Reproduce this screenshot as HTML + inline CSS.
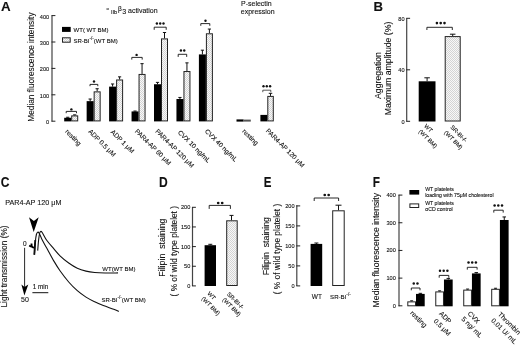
<!DOCTYPE html>
<html><head><meta charset="utf-8"><style>
html,body{margin:0;padding:0;background:#fff;}
svg{display:block;font-family:"Liberation Sans", sans-serif;filter:blur(0.3px);}
text{stroke:#111;stroke-width:0.1px;}
</style></head><body>
<svg width="520" height="346" viewBox="0 0 520 346">
<defs><pattern id="hatch" width="2" height="2" patternUnits="userSpaceOnUse"><rect width="2" height="2" fill="#f8f8f8"/><rect width="1" height="1" fill="#d4d4d4"/><rect x="1" y="1" width="1" height="1" fill="#d4d4d4"/></pattern></defs>
<rect width="520" height="346" fill="#fff"/>
<text x="0.9" y="10.7" font-size="13.4" text-anchor="start" font-weight="bold" fill="#111">A</text>
<line x1="52.00" y1="15.50" x2="52.00" y2="121.40" stroke="#444" stroke-width="1.2"/>
<line x1="51.50" y1="121.20" x2="55.40" y2="121.20" stroke="#222" stroke-width="1.0"/>
<text x="49.2" y="124.1" font-size="5.6" text-anchor="end" font-weight="normal" fill="#111">0</text>
<line x1="51.50" y1="94.80" x2="55.40" y2="94.80" stroke="#222" stroke-width="1.0"/>
<text x="49.2" y="97.7" font-size="5.6" text-anchor="end" font-weight="normal" fill="#111">100</text>
<line x1="51.50" y1="68.40" x2="55.40" y2="68.40" stroke="#222" stroke-width="1.0"/>
<text x="49.2" y="71.3" font-size="5.6" text-anchor="end" font-weight="normal" fill="#111">200</text>
<line x1="51.50" y1="42.00" x2="55.40" y2="42.00" stroke="#222" stroke-width="1.0"/>
<text x="49.2" y="44.9" font-size="5.6" text-anchor="end" font-weight="normal" fill="#111">300</text>
<line x1="51.50" y1="15.60" x2="55.40" y2="15.60" stroke="#222" stroke-width="1.0"/>
<text x="49.2" y="18.5" font-size="5.6" text-anchor="end" font-weight="normal" fill="#111">400</text>
<text x="34" y="67.1" font-size="8.3" text-anchor="middle" font-weight="normal" fill="#111" transform="rotate(-90 34 67.1)">Median fluorescence intensity</text>
<text x="106.6" y="9.9" font-size="3.9" text-anchor="start" font-weight="normal" fill="#111">α</text>
<text x="111.0" y="13.5" font-size="5.6" text-anchor="start" font-weight="normal" fill="#111">IIb</text>
<text x="117.9" y="10.6" font-size="6.6" text-anchor="start" font-weight="normal" fill="#111">β</text>
<text x="122.3" y="13.5" font-size="7" text-anchor="start" font-weight="normal" fill="#111">3</text>
<text x="128.0" y="13.4" font-size="7" text-anchor="start" font-weight="normal" fill="#111">activation</text>
<rect x="62.00" y="26.90" width="8.70" height="5.00" fill="#000"/>
<rect x="62.50" y="37.80" width="7.70" height="4.40" fill="url(#hatch)" stroke="#222" stroke-width="1"/>
<text x="73.6" y="31.6" font-size="6" text-anchor="start" font-weight="normal" fill="#111">WT( WT BM)</text>
<text x="73.4" y="42.6" font-size="6" fill="#111">SR-BI<tspan font-size="4.6" dy="-2.6">-/-</tspan><tspan dy="2.6">(WT BM)</tspan></text>
<line x1="67.70" y1="117.77" x2="67.70" y2="117.24" stroke="#111" stroke-width="1.0"/>
<line x1="66.10" y1="117.24" x2="69.30" y2="117.24" stroke="#111" stroke-width="1.0"/>
<line x1="74.70" y1="115.39" x2="74.70" y2="114.86" stroke="#111" stroke-width="1.0"/>
<line x1="73.10" y1="114.86" x2="76.30" y2="114.86" stroke="#111" stroke-width="1.0"/>
<rect x="64.20" y="117.77" width="7.00" height="3.63" fill="#000"/>
<rect x="71.70" y="115.89" width="6.00" height="5.01" fill="url(#hatch)" stroke="#222" stroke-width="1"/>
<polyline points="66.2,113.2 66.2,111.4 76.5,111.4 76.5,113.2" fill="none" stroke="#111" stroke-width="0.9"/>
<circle cx="71.40" cy="109.4" r="1.2" fill="#111"/>
<line x1="90.15" y1="101.14" x2="90.15" y2="99.02" stroke="#111" stroke-width="1.0"/>
<line x1="88.55" y1="99.02" x2="91.75" y2="99.02" stroke="#111" stroke-width="1.0"/>
<line x1="97.15" y1="91.37" x2="97.15" y2="88.73" stroke="#111" stroke-width="1.0"/>
<line x1="95.55" y1="88.73" x2="98.75" y2="88.73" stroke="#111" stroke-width="1.0"/>
<rect x="86.65" y="101.14" width="7.00" height="20.26" fill="#000"/>
<rect x="94.15" y="91.87" width="6.00" height="29.03" fill="url(#hatch)" stroke="#222" stroke-width="1"/>
<polyline points="90,86.2 90,84.4 97.8,84.4 97.8,86.2" fill="none" stroke="#111" stroke-width="0.9"/>
<circle cx="94.00" cy="81.5" r="1.2" fill="#111"/>
<line x1="112.60" y1="86.62" x2="112.60" y2="83.98" stroke="#111" stroke-width="1.0"/>
<line x1="111.00" y1="83.98" x2="114.20" y2="83.98" stroke="#111" stroke-width="1.0"/>
<line x1="119.60" y1="79.49" x2="119.60" y2="76.85" stroke="#111" stroke-width="1.0"/>
<line x1="118.00" y1="76.85" x2="121.20" y2="76.85" stroke="#111" stroke-width="1.0"/>
<rect x="109.10" y="86.62" width="7.00" height="34.78" fill="#000"/>
<rect x="116.60" y="79.99" width="6.00" height="40.91" fill="url(#hatch)" stroke="#222" stroke-width="1"/>
<line x1="135.05" y1="111.43" x2="135.05" y2="111.04" stroke="#111" stroke-width="1.0"/>
<line x1="133.45" y1="111.04" x2="136.65" y2="111.04" stroke="#111" stroke-width="1.0"/>
<line x1="142.05" y1="73.94" x2="142.05" y2="63.65" stroke="#111" stroke-width="1.0"/>
<line x1="140.45" y1="63.65" x2="143.65" y2="63.65" stroke="#111" stroke-width="1.0"/>
<rect x="131.55" y="111.43" width="7.00" height="9.97" fill="#000"/>
<rect x="139.05" y="74.44" width="6.00" height="46.46" fill="url(#hatch)" stroke="#222" stroke-width="1"/>
<polyline points="131.8,59.6 131.8,57.4 142.2,57.4 142.2,59.6" fill="none" stroke="#111" stroke-width="0.9"/>
<circle cx="136.60" cy="54.9" r="1.2" fill="#111"/>
<line x1="157.50" y1="84.24" x2="157.50" y2="82.39" stroke="#111" stroke-width="1.0"/>
<line x1="155.90" y1="82.39" x2="159.10" y2="82.39" stroke="#111" stroke-width="1.0"/>
<line x1="164.50" y1="38.41" x2="164.50" y2="32.50" stroke="#111" stroke-width="1.0"/>
<line x1="162.90" y1="32.50" x2="166.10" y2="32.50" stroke="#111" stroke-width="1.0"/>
<rect x="154.00" y="84.24" width="7.00" height="37.16" fill="#000"/>
<rect x="161.50" y="38.91" width="6.00" height="81.99" fill="url(#hatch)" stroke="#222" stroke-width="1"/>
<polyline points="154.2,29.8 154.2,27.2 166.2,27.2 166.2,29.8" fill="none" stroke="#111" stroke-width="0.9"/>
<circle cx="156.90" cy="23.5" r="1.2" fill="#111"/>
<circle cx="160.20" cy="23.5" r="1.2" fill="#111"/>
<circle cx="163.50" cy="23.5" r="1.2" fill="#111"/>
<line x1="179.95" y1="99.02" x2="179.95" y2="97.44" stroke="#111" stroke-width="1.0"/>
<line x1="178.35" y1="97.44" x2="181.55" y2="97.44" stroke="#111" stroke-width="1.0"/>
<line x1="186.95" y1="71.04" x2="186.95" y2="62.86" stroke="#111" stroke-width="1.0"/>
<line x1="185.35" y1="62.86" x2="188.55" y2="62.86" stroke="#111" stroke-width="1.0"/>
<rect x="176.45" y="99.02" width="7.00" height="22.38" fill="#000"/>
<rect x="183.95" y="71.54" width="6.00" height="49.36" fill="url(#hatch)" stroke="#222" stroke-width="1"/>
<polyline points="178.2,56.9 178.2,54.3 186.7,54.3 186.7,56.9" fill="none" stroke="#111" stroke-width="0.9"/>
<circle cx="180.95" cy="50.5" r="1.2" fill="#111"/>
<circle cx="184.25" cy="50.5" r="1.2" fill="#111"/>
<line x1="202.40" y1="54.41" x2="202.40" y2="50.18" stroke="#111" stroke-width="1.0"/>
<line x1="200.80" y1="50.18" x2="204.00" y2="50.18" stroke="#111" stroke-width="1.0"/>
<line x1="209.40" y1="33.29" x2="209.40" y2="29.06" stroke="#111" stroke-width="1.0"/>
<line x1="207.80" y1="29.06" x2="211.00" y2="29.06" stroke="#111" stroke-width="1.0"/>
<rect x="198.90" y="54.41" width="7.00" height="66.99" fill="#000"/>
<rect x="206.40" y="33.79" width="6.00" height="87.11" fill="url(#hatch)" stroke="#222" stroke-width="1"/>
<polyline points="200.8,25.8 200.8,23.6 209.8,23.6 209.8,25.8" fill="none" stroke="#111" stroke-width="0.9"/>
<circle cx="205.50" cy="20.7" r="1.2" fill="#111"/>
<text x="241" y="5.8" font-size="7" text-anchor="start" font-weight="normal" fill="#111">P-selectin</text>
<text x="240.8" y="13.8" font-size="7" text-anchor="start" font-weight="normal" fill="#111">expression</text>
<rect x="236.50" y="119.40" width="7.10" height="2.20" fill="#000"/>
<rect x="243.60" y="119.60" width="7.20" height="2.00" fill="#555"/>
<rect x="260.40" y="114.90" width="6.90" height="6.50" fill="#000"/>
<line x1="270.50" y1="95.90" x2="270.50" y2="93.30" stroke="#111" stroke-width="1.0"/>
<line x1="268.75" y1="93.30" x2="272.25" y2="93.30" stroke="#111" stroke-width="1.0"/>
<rect x="267.80" y="96.40" width="5.50" height="24.50" fill="url(#hatch)" stroke="#222" stroke-width="1"/>
<polyline points="262.8,92.2 262.8,90.2 270.8,90.2 270.8,92.2" fill="none" stroke="#111" stroke-width="0.7"/>
<circle cx="263.50" cy="86.3" r="1.2" fill="#111"/>
<circle cx="266.80" cy="86.3" r="1.2" fill="#111"/>
<circle cx="270.10" cy="86.3" r="1.2" fill="#111"/>
<text x="64.7" y="132.0" font-size="6.6" text-anchor="start" font-weight="normal" fill="#111" transform="rotate(45 64.7 132.0)">resting</text>
<text x="87.9" y="132.0" font-size="6.6" text-anchor="start" font-weight="normal" fill="#111" transform="rotate(45 87.9 132.0)">ADP 0.5 μM</text>
<text x="110.3" y="132.5" font-size="6.6" text-anchor="start" font-weight="normal" fill="#111" transform="rotate(45 110.3 132.5)">ADP 1 μM</text>
<text x="134.6" y="131.7" font-size="6.6" text-anchor="start" font-weight="normal" fill="#111" transform="rotate(45 134.6 131.7)">PAR4-AP 60 μM</text>
<text x="154.9" y="131.7" font-size="6.6" text-anchor="start" font-weight="normal" fill="#111" transform="rotate(45 154.9 131.7)">PAR4-AP 120 μM</text>
<text x="177.5" y="132.9" font-size="6.6" text-anchor="start" font-weight="normal" fill="#111" transform="rotate(45 177.5 132.9)">CVX 10 ng/mL</text>
<text x="204.4" y="131.7" font-size="6.6" text-anchor="start" font-weight="normal" fill="#111" transform="rotate(45 204.4 131.7)">CVX 40 ng/mL</text>
<text x="241.8" y="131.7" font-size="6.6" text-anchor="start" font-weight="normal" fill="#111" transform="rotate(45 241.8 131.7)">resting</text>
<text x="265.5" y="131.3" font-size="6.6" text-anchor="start" font-weight="normal" fill="#111" transform="rotate(45 265.5 131.3)">PAR4-AP 120 μM</text>
<text x="373.4" y="10.5" font-size="13.2" text-anchor="start" font-weight="bold" fill="#111">B</text>
<line x1="406.70" y1="18.30" x2="406.70" y2="121.50" stroke="#444" stroke-width="1.2"/>
<line x1="406.20" y1="121.30" x2="410.10" y2="121.30" stroke="#222" stroke-width="1.0"/>
<text x="404.6" y="123.7" font-size="5.6" text-anchor="end" font-weight="normal" fill="#111">0</text>
<line x1="406.20" y1="69.80" x2="410.10" y2="69.80" stroke="#222" stroke-width="1.0"/>
<text x="404.6" y="72.2" font-size="5.6" text-anchor="end" font-weight="normal" fill="#111">40</text>
<line x1="406.20" y1="18.30" x2="410.10" y2="18.30" stroke="#222" stroke-width="1.0"/>
<text x="404.6" y="20.7" font-size="5.6" text-anchor="end" font-weight="normal" fill="#111">80</text>
<text x="380.6" y="75.5" font-size="8.7" text-anchor="middle" font-weight="normal" fill="#111" transform="rotate(-90 380.6 75.5)">Aggregation</text>
<text x="390.8" y="68.5" font-size="8.7" text-anchor="middle" font-weight="normal" fill="#111" transform="rotate(-90 390.8 68.5)">Maximum amplitude (%)</text>
<line x1="427.10" y1="81.30" x2="427.10" y2="77.80" stroke="#111" stroke-width="1.0"/>
<line x1="424.35" y1="77.80" x2="429.85" y2="77.80" stroke="#111" stroke-width="1.0"/>
<rect x="418.70" y="81.30" width="16.80" height="40.20" fill="#000"/>
<line x1="452.70" y1="36.10" x2="452.70" y2="34.20" stroke="#111" stroke-width="1.0"/>
<line x1="449.95" y1="34.20" x2="455.45" y2="34.20" stroke="#111" stroke-width="1.0"/>
<rect x="445.20" y="36.60" width="15.00" height="84.40" fill="url(#hatch)" stroke="#222" stroke-width="1"/>
<polyline points="426.9,30.0 426.9,27.3 452.3,27.3 452.3,30.0" fill="none" stroke="#111" stroke-width="0.9"/>
<circle cx="436.90" cy="23.1" r="1.3" fill="#111"/>
<circle cx="440.70" cy="23.1" r="1.3" fill="#111"/>
<circle cx="444.50" cy="23.1" r="1.3" fill="#111"/>
<text x="423.8" y="126.4" font-size="5.85" text-anchor="start" font-weight="normal" fill="#111" transform="rotate(45 423.8 126.4)">WT</text>
<text x="418.3" y="131.9" font-size="5.85" text-anchor="start" font-weight="normal" fill="#111" transform="rotate(45 418.3 131.9)">(WT BM)</text>
<text x="449.9" y="127.6" font-size="5.85" text-anchor="start" font-weight="normal" fill="#111" transform="rotate(45 449.9 127.6)">SR-BI-/-</text>
<text x="443.8" y="133.1" font-size="5.85" text-anchor="start" font-weight="normal" fill="#111" transform="rotate(45 443.8 133.1)">(WT BM)</text>
<text x="0" y="0" font-size="13.4" font-weight="bold" fill="#111" transform="translate(0.8 187.3) scale(0.9 1.1)">C</text>
<text x="5.2" y="204.8" font-size="7.2" text-anchor="start" font-weight="normal" fill="#111">PAR4-AP 120 μM</text>
<path d="M29,217.2 L33.9,221 L38.7,217.2 L33.7,232 Z" fill="#000"/>
<text x="24.7" y="246" font-size="6.5" text-anchor="middle" font-weight="normal" fill="#111">0</text>
<line x1="24.60" y1="247.80" x2="24.60" y2="287.00" stroke="#111" stroke-width="0.9"/>
<path d="M21.4,284.6 L24.5,287 L28.3,284.6 L24.4,295.6 Z" fill="#000"/>
<text x="25" y="302.0" font-size="7" text-anchor="middle" font-weight="normal" fill="#111">50</text>
<text x="32.7" y="289.2" font-size="6.4" text-anchor="start" font-weight="normal" fill="#111">1 min</text>
<line x1="32.40" y1="292.70" x2="48.30" y2="292.70" stroke="#111" stroke-width="1.0"/>
<text x="7" y="266.5" font-size="8.3" text-anchor="middle" font-weight="normal" fill="#111" transform="rotate(-90 7 266.5)">Light transmission (%)</text>
<path d="M29.2,245.6 L30.5,246.4 L31.4,246.3 L31.5,243.6 L31.8,246.6 L33,247.3 L34.6,247.7" fill="none" stroke="#000" stroke-width="1.8"/>
<path d="M34.3,254.8 L34.8,247 L35.3,240" fill="none" stroke="#000" stroke-width="1.8"/>
<path d="M34.4,254.6 C34.55,252.50 34.97,245.35 35.3,242 C35.63,238.65 36.00,236.13 36.4,234.5 C36.80,232.87 37.23,232.42 37.7,232.2 C38.17,231.98 38.48,231.98 39.2,233.2 C39.92,234.42 40.75,237.02 42,239.5 C43.25,241.98 44.72,244.50 46.7,248.1 C48.68,251.70 51.68,257.32 53.9,261.1 C56.12,264.88 57.53,267.32 60,270.8 C62.47,274.28 65.82,278.68 68.7,282 C71.58,285.32 74.42,288.18 77.3,290.7 C80.18,293.22 83.10,295.25 86,297.1 C88.90,298.95 91.82,300.38 94.7,301.8 C97.58,303.22 100.13,304.37 103.3,305.6 C106.47,306.83 111.12,308.22 113.7,309.2 C116.28,310.18 117.95,311.12 118.8,311.5" fill="none" stroke="#111" stroke-width="1.1"/>
<path d="M37.7,250.6 C37.85,248.83 38.28,242.85 38.6,240 C38.92,237.15 39.27,234.92 39.6,233.5 C39.93,232.08 40.17,231.67 40.6,231.5 C41.03,231.33 41.18,231.05 42.2,232.5 C43.22,233.95 44.75,237.48 46.7,240.2 C48.65,242.92 51.68,246.20 53.9,248.8 C56.12,251.40 57.53,253.43 60,255.8 C62.47,258.17 65.82,260.93 68.7,263 C71.58,265.07 74.42,266.85 77.3,268.2 C80.18,269.55 83.10,270.38 86,271.1 C88.90,271.82 91.53,272.18 94.7,272.5 C97.87,272.82 101.12,272.93 105,273 C108.88,273.07 115.83,272.92 118,272.9" fill="none" stroke="#111" stroke-width="1.1"/>
<text x="102.3" y="270.5" font-size="6" text-anchor="start" font-weight="normal" fill="#111">WT(WT BM)</text>
<text x="101.4" y="301.8" font-size="6" fill="#111">SR-BI<tspan font-size="4.6" dy="-2.6">-/-</tspan><tspan dy="2.6">(WT BM)</tspan></text>
<text x="0" y="0" font-size="13.4" font-weight="bold" fill="#111" transform="translate(159.0 187.3) scale(0.9 1.1)">D</text>
<line x1="192.50" y1="207.20" x2="192.50" y2="286.00" stroke="#444" stroke-width="1.2"/>
<line x1="192.00" y1="285.90" x2="195.90" y2="285.90" stroke="#222" stroke-width="1.0"/>
<text x="190.3" y="287.9" font-size="5.6" text-anchor="end" font-weight="normal" fill="#111">0</text>
<line x1="192.00" y1="266.25" x2="195.90" y2="266.25" stroke="#222" stroke-width="1.0"/>
<text x="190.3" y="268.25" font-size="5.6" text-anchor="end" font-weight="normal" fill="#111">50</text>
<line x1="192.00" y1="246.60" x2="195.90" y2="246.60" stroke="#222" stroke-width="1.0"/>
<text x="190.3" y="248.6" font-size="5.6" text-anchor="end" font-weight="normal" fill="#111">100</text>
<line x1="192.00" y1="226.95" x2="195.90" y2="226.95" stroke="#222" stroke-width="1.0"/>
<text x="190.3" y="228.95" font-size="5.6" text-anchor="end" font-weight="normal" fill="#111">150</text>
<line x1="192.00" y1="207.30" x2="195.90" y2="207.30" stroke="#222" stroke-width="1.0"/>
<text x="190.3" y="209.3" font-size="5.6" text-anchor="end" font-weight="normal" fill="#111">200</text>
<text x="165.5" y="247.6" font-size="8.8" text-anchor="middle" font-weight="normal" fill="#111" transform="rotate(-90 165.5 247.6)">Filipin  staining</text>
<text x="176.6" y="251.2" font-size="8.3" text-anchor="middle" font-weight="normal" fill="#111" transform="rotate(-90 176.6 251.2)">( % of wild type platelet )</text>
<line x1="210.30" y1="245.20" x2="210.30" y2="244.30" stroke="#111" stroke-width="1.0"/>
<line x1="208.30" y1="244.30" x2="212.30" y2="244.30" stroke="#111" stroke-width="1.0"/>
<rect x="204.60" y="245.20" width="11.40" height="40.80" fill="#000"/>
<line x1="231.50" y1="220.30" x2="231.50" y2="215.40" stroke="#111" stroke-width="1.0"/>
<line x1="229.50" y1="215.40" x2="233.50" y2="215.40" stroke="#111" stroke-width="1.0"/>
<rect x="226.70" y="220.80" width="10.50" height="64.70" fill="url(#hatch)" stroke="#222" stroke-width="1"/>
<polyline points="209.2,208.9 209.2,205.4 230.4,205.4 230.4,208.9" fill="none" stroke="#111" stroke-width="0.9"/>
<circle cx="218.20" cy="203" r="1.35" fill="#111"/>
<circle cx="222.20" cy="203" r="1.35" fill="#111"/>
<text x="206.9" y="293.9" font-size="5.85" text-anchor="start" font-weight="normal" fill="#111" transform="rotate(45 206.9 293.9)">WT</text>
<text x="201.2" y="299.1" font-size="5.85" text-anchor="start" font-weight="normal" fill="#111" transform="rotate(45 201.2 299.1)">(WT BM)</text>
<text x="226.6" y="294.5" font-size="5.85" text-anchor="start" font-weight="normal" fill="#111" transform="rotate(45 226.6 294.5)">SR-BI-/-</text>
<text x="222.0" y="300.2" font-size="5.85" text-anchor="start" font-weight="normal" fill="#111" transform="rotate(45 222.0 300.2)">(WT BM)</text>
<text x="0" y="0" font-size="13.4" font-weight="bold" fill="#111" transform="translate(263.8 187.2) scale(0.86 1.1)">E</text>
<line x1="296.80" y1="205.30" x2="296.80" y2="286.00" stroke="#444" stroke-width="1.2"/>
<line x1="296.30" y1="285.90" x2="300.20" y2="285.90" stroke="#222" stroke-width="1.0"/>
<text x="294.6" y="287.9" font-size="5.6" text-anchor="end" font-weight="normal" fill="#111">0</text>
<line x1="296.30" y1="265.90" x2="300.20" y2="265.90" stroke="#222" stroke-width="1.0"/>
<text x="294.6" y="267.9" font-size="5.6" text-anchor="end" font-weight="normal" fill="#111">50</text>
<line x1="296.30" y1="245.90" x2="300.20" y2="245.90" stroke="#222" stroke-width="1.0"/>
<text x="294.6" y="247.9" font-size="5.6" text-anchor="end" font-weight="normal" fill="#111">100</text>
<line x1="296.30" y1="225.90" x2="300.20" y2="225.90" stroke="#222" stroke-width="1.0"/>
<text x="294.6" y="227.9" font-size="5.6" text-anchor="end" font-weight="normal" fill="#111">150</text>
<line x1="296.30" y1="205.90" x2="300.20" y2="205.90" stroke="#222" stroke-width="1.0"/>
<text x="294.6" y="207.9" font-size="5.6" text-anchor="end" font-weight="normal" fill="#111">200</text>
<text x="269.0" y="246.1" font-size="8.8" text-anchor="middle" font-weight="normal" fill="#111" transform="rotate(-90 269.0 246.1)">Filipin  staining</text>
<text x="280.2" y="249.0" font-size="8.3" text-anchor="middle" font-weight="normal" fill="#111" transform="rotate(-90 280.2 249.0)">( % of wild type platelet )</text>
<line x1="316.40" y1="243.90" x2="316.40" y2="243.00" stroke="#111" stroke-width="1.0"/>
<line x1="314.40" y1="243.00" x2="318.40" y2="243.00" stroke="#111" stroke-width="1.0"/>
<rect x="310.60" y="243.90" width="11.60" height="42.10" fill="#000"/>
<line x1="338.50" y1="210.30" x2="338.50" y2="205.20" stroke="#111" stroke-width="1.0"/>
<line x1="335.50" y1="205.20" x2="341.50" y2="205.20" stroke="#111" stroke-width="1.0"/>
<rect x="332.70" y="210.80" width="11.50" height="74.70" fill="#fff" stroke="#222" stroke-width="1"/>
<polyline points="314.2,201 314.2,198 338.6,198 338.6,201" fill="none" stroke="#111" stroke-width="0.9"/>
<circle cx="324.75" cy="195" r="1.35" fill="#111"/>
<circle cx="328.65" cy="195" r="1.35" fill="#111"/>
<text x="311.8" y="298.6" font-size="6.5" text-anchor="start" font-weight="normal" fill="#111">WT</text>
<text x="330.1" y="298.7" font-size="6.1" fill="#111">SR-BI<tspan font-size="4.6" dy="-3.2">-/-</tspan></text>
<text x="0" y="0" font-size="13.4" font-weight="bold" fill="#111" transform="translate(372.7 187.2) scale(0.88 1.1)">F</text>
<line x1="399.00" y1="194.80" x2="399.00" y2="306.30" stroke="#444" stroke-width="1.2"/>
<line x1="398.50" y1="305.80" x2="402.40" y2="305.80" stroke="#222" stroke-width="1.0"/>
<text x="395.8" y="307.8" font-size="5.6" text-anchor="end" font-weight="normal" fill="#111">0</text>
<line x1="398.50" y1="278.12" x2="402.40" y2="278.12" stroke="#222" stroke-width="1.0"/>
<text x="395.8" y="280.12" font-size="5.6" text-anchor="end" font-weight="normal" fill="#111">100</text>
<line x1="398.50" y1="250.44" x2="402.40" y2="250.44" stroke="#222" stroke-width="1.0"/>
<text x="395.8" y="252.44" font-size="5.6" text-anchor="end" font-weight="normal" fill="#111">200</text>
<line x1="398.50" y1="222.76" x2="402.40" y2="222.76" stroke="#222" stroke-width="1.0"/>
<text x="395.8" y="224.76" font-size="5.6" text-anchor="end" font-weight="normal" fill="#111">300</text>
<line x1="398.50" y1="195.08" x2="402.40" y2="195.08" stroke="#222" stroke-width="1.0"/>
<text x="395.8" y="197.08" font-size="5.6" text-anchor="end" font-weight="normal" fill="#111">400</text>
<text x="379" y="250.2" font-size="8.7" text-anchor="middle" font-weight="normal" fill="#111" transform="rotate(-90 379 250.2)">Median fluorescence intensity</text>
<rect x="409.40" y="190.00" width="9.80" height="4.60" fill="#000"/>
<rect x="409.90" y="203.90" width="8.80" height="3.60" fill="#fff" stroke="#222" stroke-width="1"/>
<text x="425.2" y="190.6" font-size="5.2" text-anchor="start" font-weight="normal" fill="#111" style="stroke-width:0.1px">WT platelets</text>
<text x="425.2" y="196.9" font-size="5.2" text-anchor="start" font-weight="normal" fill="#111" style="stroke-width:0.1px">loading with 75μM cholesterol</text>
<text x="425.2" y="204.9" font-size="5.2" text-anchor="start" font-weight="normal" fill="#111" style="stroke-width:0.1px">WT platelets</text>
<text x="425.2" y="211.2" font-size="5.2" text-anchor="start" font-weight="normal" fill="#111" style="stroke-width:0.1px">αCD control</text>
<line x1="411.65" y1="301.37" x2="411.65" y2="300.82" stroke="#111" stroke-width="1.0"/>
<line x1="410.15" y1="300.82" x2="413.15" y2="300.82" stroke="#111" stroke-width="1.0"/>
<line x1="420.35" y1="293.90" x2="420.35" y2="293.34" stroke="#111" stroke-width="1.0"/>
<line x1="418.60" y1="293.34" x2="422.10" y2="293.34" stroke="#111" stroke-width="1.0"/>
<rect x="407.80" y="301.87" width="7.70" height="3.93" fill="#fff" stroke="#222" stroke-width="1"/>
<rect x="416.00" y="293.90" width="8.70" height="12.40" fill="#000"/>
<polyline points="411.3,290.3 411.3,288 420,288 420,290.3" fill="none" stroke="#111" stroke-width="0.9"/>
<circle cx="413.75" cy="283.4" r="1.25" fill="#111"/>
<circle cx="417.45" cy="283.4" r="1.25" fill="#111"/>
<line x1="439.62" y1="291.41" x2="439.62" y2="290.85" stroke="#111" stroke-width="1.0"/>
<line x1="438.12" y1="290.85" x2="441.12" y2="290.85" stroke="#111" stroke-width="1.0"/>
<line x1="448.32" y1="279.50" x2="448.32" y2="278.40" stroke="#111" stroke-width="1.0"/>
<line x1="446.57" y1="278.40" x2="450.07" y2="278.40" stroke="#111" stroke-width="1.0"/>
<rect x="435.77" y="291.91" width="7.70" height="13.89" fill="#fff" stroke="#222" stroke-width="1"/>
<rect x="443.97" y="279.50" width="8.70" height="26.80" fill="#000"/>
<polyline points="439.2,277.7 439.2,275.4 448.8,275.4 448.8,277.7" fill="none" stroke="#111" stroke-width="0.9"/>
<circle cx="440.00" cy="270.7" r="1.25" fill="#111"/>
<circle cx="443.70" cy="270.7" r="1.25" fill="#111"/>
<circle cx="447.40" cy="270.7" r="1.25" fill="#111"/>
<line x1="467.59" y1="289.61" x2="467.59" y2="289.05" stroke="#111" stroke-width="1.0"/>
<line x1="466.09" y1="289.05" x2="469.09" y2="289.05" stroke="#111" stroke-width="1.0"/>
<line x1="476.29" y1="273.41" x2="476.29" y2="272.58" stroke="#111" stroke-width="1.0"/>
<line x1="474.54" y1="272.58" x2="478.04" y2="272.58" stroke="#111" stroke-width="1.0"/>
<rect x="463.74" y="290.11" width="7.70" height="15.69" fill="#fff" stroke="#222" stroke-width="1"/>
<rect x="471.94" y="273.41" width="8.70" height="32.89" fill="#000"/>
<polyline points="467.3,269.6 467.3,267.3 477.1,267.3 477.1,269.6" fill="none" stroke="#111" stroke-width="0.9"/>
<circle cx="468.50" cy="262.5" r="1.25" fill="#111"/>
<circle cx="472.20" cy="262.5" r="1.25" fill="#111"/>
<circle cx="475.90" cy="262.5" r="1.25" fill="#111"/>
<line x1="495.56" y1="288.80" x2="495.56" y2="288.25" stroke="#111" stroke-width="1.0"/>
<line x1="494.06" y1="288.25" x2="497.06" y2="288.25" stroke="#111" stroke-width="1.0"/>
<line x1="504.26" y1="219.99" x2="504.26" y2="216.95" stroke="#111" stroke-width="1.0"/>
<line x1="502.51" y1="216.95" x2="506.01" y2="216.95" stroke="#111" stroke-width="1.0"/>
<rect x="491.71" y="289.30" width="7.70" height="16.50" fill="#fff" stroke="#222" stroke-width="1"/>
<rect x="499.91" y="219.99" width="8.70" height="86.31" fill="#000"/>
<polyline points="493.8,212.6 493.8,210.2 503.2,210.2 503.2,212.6" fill="none" stroke="#111" stroke-width="0.9"/>
<circle cx="494.60" cy="205.4" r="1.25" fill="#111"/>
<circle cx="498.30" cy="205.4" r="1.25" fill="#111"/>
<circle cx="502.00" cy="205.4" r="1.25" fill="#111"/>
<text x="409.8" y="313.5" font-size="6.8" text-anchor="start" font-weight="normal" fill="#111" transform="rotate(45 409.8 313.5)">resting</text>
<text x="438.7" y="314.1" font-size="6.8" text-anchor="start" font-weight="normal" fill="#111" transform="rotate(45 438.7 314.1)">ADP</text>
<text x="433.3" y="321.5" font-size="6.8" text-anchor="start" font-weight="normal" fill="#111" transform="rotate(45 433.3 321.5)">0.5 μM</text>
<text x="467.2" y="314.1" font-size="6.8" text-anchor="start" font-weight="normal" fill="#111" transform="rotate(45 467.2 314.1)">CVX</text>
<text x="461.1" y="319.5" font-size="6.8" text-anchor="start" font-weight="normal" fill="#111" transform="rotate(45 461.1 319.5)">5 ng/ mL</text>
<text x="497.5" y="314.8" font-size="6.8" text-anchor="start" font-weight="normal" fill="#111" transform="rotate(45 497.5 314.8)">Thrombin</text>
<text x="490.7" y="320.9" font-size="6.8" text-anchor="start" font-weight="normal" fill="#111" transform="rotate(45 490.7 320.9)">0.01 U/ mL</text>
</svg>
</body></html>
